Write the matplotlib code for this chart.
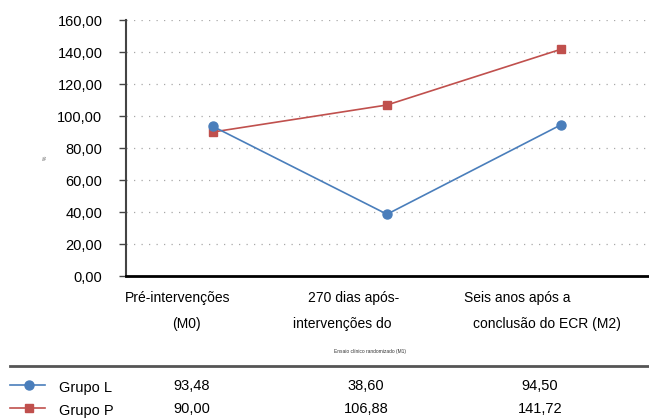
import matplotlib.pyplot as plt
import matplotlib.transforms as mtransforms
from matplotlib.lines import Line2D

plt.rcParams['font.family'] = ['Liberation Sans', 'DejaVu Sans']

# Dados
momentos = ["M0", "M1", "M2"]
linha1 = ["Pré-intervenções", "270 dias após-", "Seis anos após a"]
linha2 = ["(M0)", "intervenções do", "conclusão do ECR (M2)"]
nota_m1 = "Ensaio clínico randomizado (M1)"
grupo_l = [93.48, 38.60, 94.50]
grupo_p = [90.00, 106.88, 141.72]
grupos = ["Grupo L", "Grupo P"]
yticks = [0, 20, 40, 60, 80, 100, 120, 140, 160]

AZUL = "#4A7EBB"
VERMELHO = "#C0504D"


def fmt(v):
    return f"{v:.2f}".replace(".", ",")


W, H = 649, 418
fig = plt.figure(figsize=(W / 100, H / 100), dpi=100)
ax = fig.add_axes([126 / W, (H - 276) / H, 522 / W, 256 / H])

x = list(range(len(momentos)))
ax.plot(x, grupo_l, color=AZUL, lw=1.2, marker="o", ms=6.5, zorder=4)
ax.plot(x, grupo_p, color=VERMELHO, lw=1.2, marker="s", ms=6, zorder=3)

ax.set_xlim(-0.5, 2.5)
ax.set_ylim(0, 160)
ax.set_yticks(yticks)
ax.set_yticklabels([fmt(v) for v in yticks], fontsize=10.5)
ax.set_xticks([])
ax.yaxis.grid(True, linestyle=(0, (1, 5)), color="#a8a8a8", lw=0.9)
ax.set_axisbelow(True)
for s in ["top", "right"]:
    ax.spines[s].set_visible(False)
ax.spines["left"].set_color("#444444")
ax.spines["left"].set_linewidth(1.5)
ax.spines["bottom"].set_color("black")
ax.spines["bottom"].set_linewidth(2)
ax.tick_params(axis="y", length=5, width=1, color="#444444", pad=12)

# rótulo do eixo y (minúsculo)
fig.text(45 / W, 1 - 158 / H, "%", fontsize=3.5, rotation=90,
         ha="center", va="center", color="#555555")

# rótulos das categorias em duas linhas
dx1 = [-35, -33, -44]
dx2 = [-27, -45, -14]
base = mtransforms.blended_transform_factory(ax.transData, fig.transFigure)
for i in x:
    t1 = mtransforms.offset_copy(base, fig=fig, x=dx1[i], y=0, units="dots")
    t2 = mtransforms.offset_copy(base, fig=fig, x=dx2[i], y=0, units="dots")
    fig.text(i, 1 - 298 / H, linha1[i], transform=t1, ha="center", va="center", fontsize=10)
    fig.text(i, 1 - 324 / H, linha2[i], transform=t2, ha="center", va="center", fontsize=10)

fig.text(370 / W, 1 - 351 / H, nota_m1, ha="center", va="center", fontsize=3.5, color="#333333")

# tabela de dados
fig.add_artist(Line2D([10 / W, 1.0], [1 - 366 / H] * 2, color="#555555", lw=2,
                      transform=fig.transFigure))

linhas_y = [386, 409]
cores = [AZUL, VERMELHO]
marcas = ["o", "s"]
valores = [grupo_l, grupo_p]
tcol = mtransforms.offset_copy(base, fig=fig, x=-21, y=0, units="dots")
for k in range(len(grupos)):
    yy = 1 - linhas_y[k] / H
    fig.add_artist(Line2D([10 / W, 45 / W], [yy + 1 / H] * 2, color=cores[k], lw=1.2,
                          transform=fig.transFigure))
    fig.add_artist(Line2D([29 / W], [yy + 1 / H], color=cores[k], marker=marcas[k],
                          ms=6.5 if k == 0 else 6, transform=fig.transFigure))
    fig.text(59 / W, yy - 2 / H, grupos[k], ha="left", va="center", fontsize=10.5)
    for i in x:
        fig.text(i, yy, fmt(valores[k][i]), transform=tcol, ha="center", va="center",
                 fontsize=10.5)

fig.savefig("out.png", dpi=100)
